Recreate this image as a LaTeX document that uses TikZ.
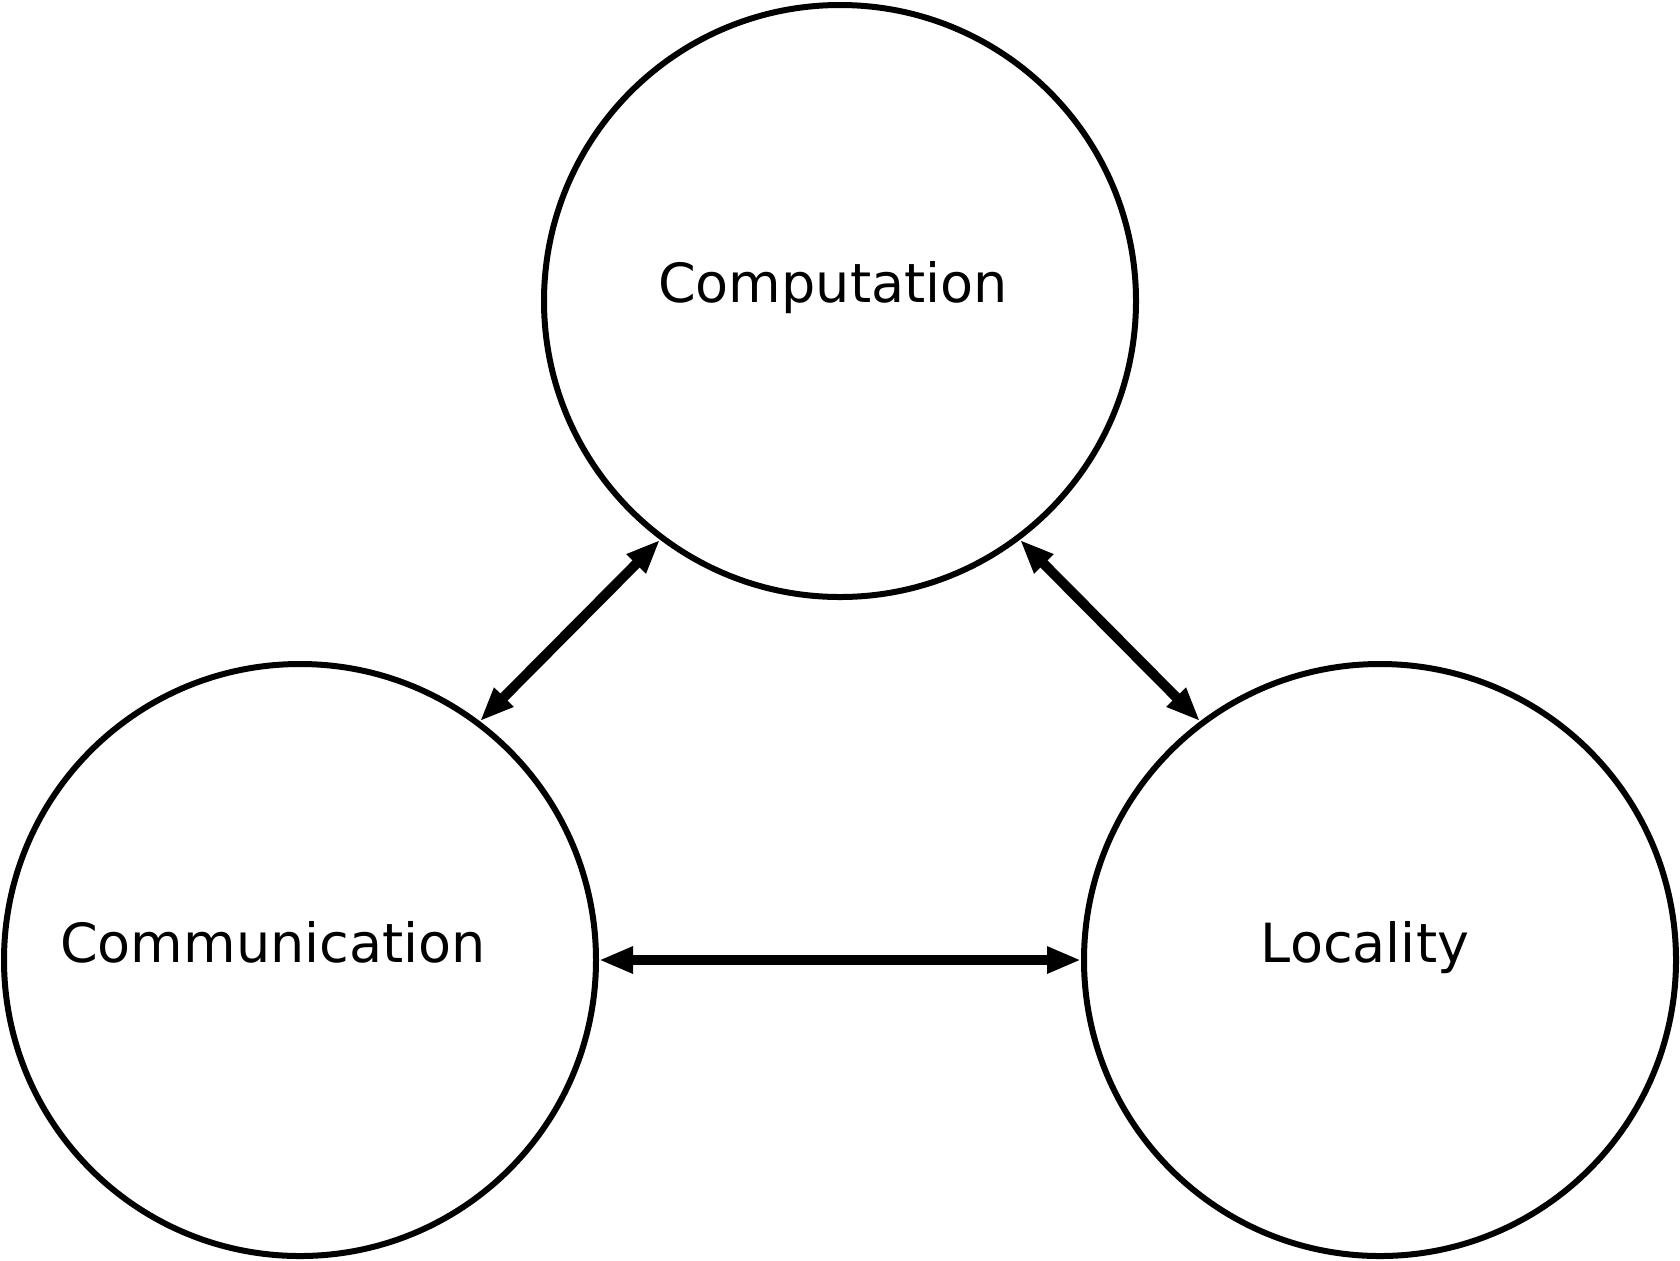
\documentclass[tikz,border=0pt]{standalone}
\usepackage{fontspec}
\setmainfont{DejaVu Sans}
\usetikzlibrary{arrows.meta}
\begin{document}
\begin{tikzpicture}[x=0.5pt,y=-0.5pt,
  bubble/.style={draw=black,line width=3pt,circle,minimum size=296pt,inner sep=0pt},
  lbl/.style={anchor=base,inner sep=0pt,font=\fontsize{27}{32}\selectfont},
  link/.style={line width=5pt,{Triangle[length=17pt,width=12.5pt]}-{Triangle[length=17pt,width=12.5pt]}}]
\useasboundingbox (0,0) rectangle (1680,1260);
\node[bubble] (comp) at (840,301) {};
\node[bubble] (comm) at (300,960) {};
\node[bubble] (loc) at (1380,960) {};
\node[lbl] (tcomp) at (833,302) {Computation};
\node[lbl] (tcomm) at (273,962) {Communication};
\node[lbl] (tloc) at (1365,962) {Locality};
\draw[link] (comp.233) -- (comm.53);
\draw[link] (comp.307) -- (loc.127);
\draw[link] (comm.east) -- (loc.west);
\end{tikzpicture}
\end{document}
